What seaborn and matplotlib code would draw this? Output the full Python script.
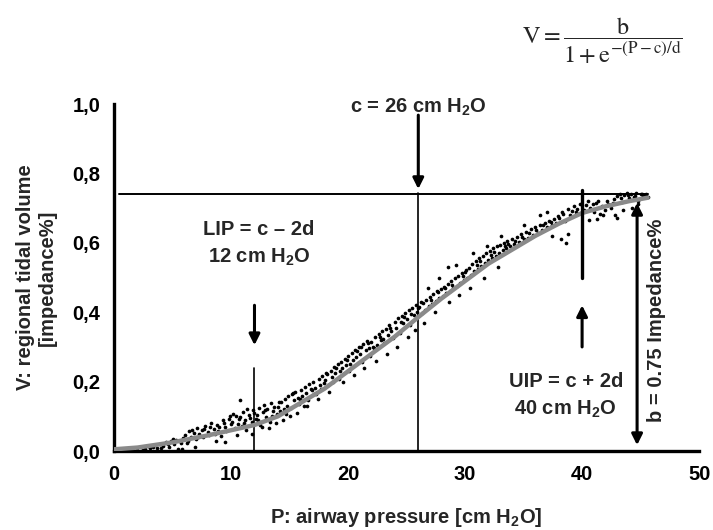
import numpy as np
import pandas as pd
import matplotlib
matplotlib.use("Agg")
import matplotlib.pyplot as plt
import seaborn as sns

# ---------------- data ----------------
scatter_p = [
    2.0, 2.3, 2.6, 2.9, 3.1, 3.4, 3.7, 3.9, 4.2, 4.4, 4.7, 4.9, 5.1, 5.3, 5.5, 5.7, 5.9,
    6.1, 6.3, 6.4, 6.6, 6.8, 7.0, 7.1, 7.3, 7.5, 7.6, 7.8, 8.0, 8.1, 8.3, 8.5, 8.6, 8.8, 9.0, 9.1, 9.3, 9.5, 9.6, 9.8, 10.0,
    5.8, 6.9, 8.7, 9.5,
    10.1, 10.3, 10.4, 10.6, 10.7, 10.9, 11.0, 11.2, 11.3, 11.5, 11.6, 11.8, 11.9, 12.1, 12.2, 12.4, 12.5, 12.7, 12.8, 13.0, 13.1, 13.3, 13.4, 13.6, 13.7, 13.9,
    10.8, 10.5, 11.8, 12.6, 13.2, 13.8,
    14.0, 14.2, 14.3, 14.5, 14.6, 14.8, 14.9, 15.1, 15.2, 15.4, 15.5, 15.7, 15.8, 16.0, 16.1, 16.3, 16.4, 16.6, 16.7, 16.9, 17.0, 17.2, 17.3, 17.5, 17.6, 17.8, 17.9,
    14.4, 15.6, 16.5, 17.4, 15.0,
    18.0, 18.2, 18.3, 18.5, 18.6, 18.8, 18.9, 19.1, 19.2, 19.4, 19.5, 19.7, 19.8, 20.0, 20.1, 20.3, 20.4, 20.6, 20.7, 20.9, 21.0, 21.2, 21.3, 21.5, 21.6, 21.8, 21.9,
    18.4, 19.6, 20.5, 21.4,
    22.0, 22.2, 22.3, 22.5, 22.6, 22.8, 22.9, 23.1, 23.2, 23.4, 23.5, 23.7, 23.8, 24.0, 24.1, 24.3, 24.4, 24.6, 24.7, 24.9, 25.0, 25.2, 25.3, 25.5, 25.6, 25.8, 25.9,
    22.4, 23.3, 24.2, 25.1, 25.7,
    26.1, 26.3, 26.4, 26.6, 26.7, 26.9, 27.0, 27.2, 27.3, 27.5, 27.6, 27.8, 27.9, 28.1, 28.2, 28.4, 28.5, 28.7, 28.8, 29.0, 29.1, 29.3, 29.4, 29.6, 29.7, 29.9,
    26.5, 27.4, 28.6, 29.5, 28.5, 27.8, 29.2, 26.8,
    30.0, 30.2, 30.3, 30.5, 30.6, 30.8, 30.9, 31.1, 31.2, 31.4, 31.5, 31.7, 31.8, 32.0, 32.1, 32.3, 32.4, 32.6, 32.7, 32.9, 33.0, 33.2, 33.3, 33.5, 33.6, 33.8,
    30.4, 31.6, 32.8, 30.7, 31.9, 33.1,
    34.0, 34.2, 34.4, 34.6, 34.8, 35.0, 35.2, 35.4, 35.6, 35.8, 36.0, 36.2, 36.4, 36.6, 36.8, 37.0, 37.2, 37.4, 37.6, 37.8,
    36.4, 37.0, 35.0, 37.4, 38.2, 38.6, 38.8,
    38.0, 38.3, 38.5, 38.8, 39.0, 39.3, 39.5, 39.8, 40.2, 40.5, 40.7, 41.0, 41.2, 41.5, 41.7, 42.0,
    40.6, 41.3, 41.8,
    42.2, 42.5, 42.7, 43.0, 43.2, 43.4, 43.6, 43.8, 44.0, 44.2, 44.4, 44.6, 44.8, 45.0, 45.2, 45.4, 45.6,
    42.8, 43.5, 44.3, 44.8, 43.0,
    2.5, 3.3, 4.0, 4.6, 5.0, 5.6, 6.2, 6.7, 7.2, 7.7, 8.2, 8.9, 9.4, 9.9, 10.2, 10.8, 11.1, 11.4,
    12.0, 12.3, 12.9, 13.5, 14.1, 14.7, 15.3, 15.9, 16.2, 16.8, 17.1, 17.7, 18.1, 18.7, 19.0, 19.3,
    19.9, 20.2, 20.8, 21.1, 21.7, 22.1, 22.7, 23.0, 23.6, 24.5, 24.8, 25.4, 26.0, 26.2, 27.1, 27.7,
    28.3, 28.9, 29.8, 30.1, 31.0, 31.3, 32.2, 32.5, 33.4, 33.7, 34.3, 34.9, 35.5, 36.1, 36.7, 37.3,
    37.9, 38.4, 39.1, 39.6, 40.3, 40.9, 41.4, 42.1, 42.6, 43.3, 43.9, 44.5, 45.1, 45.5,
]
scatter_v = [
    0.008, 0.012, 0.006, 0.015, 0.010, 0.018, 0.009, 0.021, 0.014, 0.025, 0.011, 0.028, 0.019, 0.033, 0.006, 0.024, 0.037,
    0.045, 0.030, 0.058, 0.041, 0.052, 0.036, 0.067, 0.048, 0.060, 0.039, 0.072, 0.055, 0.046, 0.081, 0.063, 0.050, 0.075, 0.068, 0.044, 0.088, 0.070, 0.058, 0.093, 0.077,
    0.005, 0.012, 0.030, 0.025,
    0.085, 0.066, 0.101, 0.079, 0.093, 0.072, 0.112, 0.088, 0.060, 0.104, 0.095, 0.083, 0.118, 0.091, 0.105, 0.125, 0.076, 0.112, 0.132, 0.098, 0.120, 0.085, 0.137, 0.115, 0.127, 0.106,
    0.147, 0.045, 0.050, 0.070, 0.065, 0.080,
    0.128, 0.115, 0.142, 0.120, 0.150, 0.131, 0.158, 0.125, 0.163, 0.146, 0.170, 0.152, 0.136, 0.177, 0.160, 0.185, 0.168, 0.148, 0.192, 0.175, 0.200, 0.182, 0.165, 0.208, 0.190, 0.215, 0.197,
    0.090, 0.110, 0.130, 0.150, 0.100,
    0.205, 0.222, 0.190, 0.230, 0.212, 0.241, 0.225, 0.250, 0.208, 0.258, 0.240, 0.266, 0.248, 0.275, 0.232, 0.283, 0.262, 0.292, 0.271, 0.300, 0.281, 0.258, 0.309, 0.290, 0.318, 0.298, 0.275,
    0.170, 0.200, 0.220, 0.240,
    0.315, 0.298, 0.328, 0.305, 0.338, 0.320, 0.346, 0.312, 0.352, 0.333, 0.362, 0.345, 0.325, 0.372, 0.355, 0.383, 0.340, 0.390, 0.370, 0.398, 0.380, 0.406, 0.362, 0.412, 0.393, 0.420, 0.401,
    0.260, 0.280, 0.300, 0.330, 0.350,
    0.415, 0.398, 0.428, 0.405, 0.436, 0.418, 0.445, 0.425, 0.452, 0.433, 0.460, 0.440, 0.468, 0.448, 0.474, 0.455, 0.482, 0.462, 0.490, 0.470, 0.498, 0.476, 0.505, 0.485, 0.512, 0.493,
    0.370, 0.400, 0.430, 0.450, 0.530, 0.500, 0.535, 0.470,
    0.515, 0.498, 0.528, 0.506, 0.540, 0.518, 0.548, 0.525, 0.556, 0.533, 0.562, 0.542, 0.570, 0.550, 0.576, 0.556, 0.584, 0.562, 0.590, 0.570, 0.595, 0.578, 0.600, 0.584, 0.606, 0.590,
    0.470, 0.500, 0.530, 0.570, 0.590, 0.620,
    0.610, 0.596, 0.618, 0.602, 0.625, 0.610, 0.632, 0.615, 0.640, 0.622, 0.645, 0.628, 0.652, 0.636, 0.658, 0.645, 0.664, 0.650, 0.670, 0.656,
    0.680, 0.690, 0.650, 0.620, 0.610, 0.600, 0.625,
    0.672, 0.690, 0.662, 0.698, 0.680, 0.705, 0.688, 0.712, 0.695, 0.720, 0.700, 0.690, 0.715, 0.682, 0.705, 0.695,
    0.665, 0.670, 0.680,
    0.712, 0.700, 0.725, 0.735, 0.742, 0.718, 0.738, 0.745, 0.728, 0.741, 0.732, 0.744, 0.722, 0.740, 0.736, 0.738, 0.733,
    0.680, 0.695, 0.700, 0.712, 0.672,
    0.004, 0.013, 0.008, 0.020, 0.035, 0.030, 0.022, 0.062, 0.040, 0.064, 0.070, 0.058, 0.080, 0.100, 0.108, 0.098, 0.080, 0.122,
    0.110, 0.090, 0.118, 0.100, 0.140, 0.108, 0.168, 0.150, 0.130, 0.180, 0.165, 0.178, 0.225, 0.198, 0.240, 0.232,
    0.262, 0.250, 0.288, 0.300, 0.312, 0.300, 0.330, 0.322, 0.354, 0.372, 0.385, 0.395, 0.412, 0.430, 0.436, 0.458,
    0.470, 0.478, 0.505, 0.522, 0.536, 0.548, 0.565, 0.574, 0.592, 0.598, 0.606, 0.618, 0.628, 0.636, 0.650, 0.660,
    0.676, 0.682, 0.692, 0.698, 0.708, 0.712, 0.722, 0.720, 0.715, 0.730, 0.738, 0.735, 0.742, 0.740,
]

# fitted sigmoid curve
fit_p = [0, 2, 5, 8, 10, 12, 14, 16, 18, 20, 22, 24, 26, 28, 30, 32, 34, 36, 38, 40, 42, 44, 45.6]
fit_v = [0.005, 0.010, 0.025, 0.045, 0.060, 0.075, 0.100, 0.140, 0.180, 0.230, 0.280, 0.330, 0.386,
         0.440, 0.490, 0.540, 0.580, 0.620, 0.655, 0.686, 0.705, 0.720, 0.730]

x_ticks = [0, 10, 20, 30, 40, 50]
x_ticklabels = ["0", "10", "20", "30", "40", "50"]
y_ticks = [0.0, 0.2, 0.4, 0.6, 0.8, 1.0]
y_ticklabels = ["0,0", "0,2", "0,4", "0,6", "0,8", "1,0"]

c_val = 26      # inflection point
lip_val = 12    # lower inflection point
uip_val = 40    # upper inflection point
b_level = 0.74  # plateau line

# ---------------- style ----------------
sns.set_style("white")
plt.rcParams['font.family'] = ['Liberation Sans', 'DejaVu Sans']
plt.rcParams['mathtext.fontset'] = 'custom'
plt.rcParams['mathtext.rm'] = 'Liberation Sans:bold'
plt.rcParams['mathtext.bf'] = 'Liberation Sans:bold'
plt.rcParams['mathtext.it'] = 'Liberation Sans:bold'

fs = 14.5

fig = plt.figure(figsize=(7.13, 5.30), dpi=100)
ax = fig.add_axes([0.160, 0.149, 0.8205, 0.6547])

df = pd.DataFrame({"P": scatter_p, "V": scatter_v})
sns.scatterplot(data=df, x="P", y="V", ax=ax, color="black", s=7, linewidth=0, zorder=3)
fit = pd.DataFrame({"P": fit_p, "V": fit_v})
sns.lineplot(data=fit, x="P", y="V", ax=ax, color="#8a8a8a", lw=3.2, zorder=4)

# reference lines
ax.plot([0.4, 45.6], [b_level, b_level], color="black", lw=1.4, zorder=2)
ax.plot([c_val, c_val], [0, b_level + 0.005], color="black", lw=1.2, zorder=2)
ax.plot([lip_val, lip_val], [0, 0.24], color="black", lw=1.2, zorder=2)
ax.plot([uip_val, uip_val], [0.50, 0.752], color="black", lw=2.4, zorder=5)

arrow_kw = dict(arrowstyle="-|>", color="black", lw=2.2, mutation_scale=16, shrinkA=0, shrinkB=0)
ax.annotate("", xy=(c_val, 0.755), xytext=(c_val, 0.968), arrowprops=arrow_kw, annotation_clip=False)
ax.annotate("", xy=(lip_val, 0.305), xytext=(lip_val, 0.42), arrowprops=arrow_kw)
ax.annotate("", xy=(uip_val, 0.42), xytext=(uip_val, 0.30), arrowprops=arrow_kw)
ax.annotate("", xy=(44.7, 0.017), xytext=(44.7, 0.715),
            arrowprops=dict(arrowstyle="<|-|>", color="black", lw=2.2, mutation_scale=16, shrinkA=0, shrinkB=0))

# annotation texts
ax.text(c_val, 0.991, r"c = 26 cm H$_\mathbf{2}$O", ha="center", va="center", fontsize=fs, fontweight="bold")
ax.text(12.4, 0.597, "LIP = c \u2013 2d\n12 cm H$_\\mathbf{2}$O", ha="center", va="center",
        fontsize=fs, fontweight="bold", linespacing=1.45, multialignment="center")
ax.text(38.6, 0.158, "UIP = c + 2d\n40 cm H$_\\mathbf{2}$O", ha="center", va="center",
        fontsize=fs, fontweight="bold", linespacing=1.45, multialignment="center")
ax.text(46.4, 0.377, "b = 0.75 Impedance%", rotation=90, ha="center", va="center",
        fontsize=fs, fontweight="bold")

# formula
fig.text(0.845, 0.922, r"$\mathrm{V} = \dfrac{\mathrm{b}}{1+\mathrm{e}^{-(\mathrm{P}-\mathrm{c})/\mathrm{d}}}$",
         ha="center", va="center", fontsize=17.5, math_fontfamily="stix", fontweight="normal")

# axes
ax.set_xlim(0, 50)
ax.set_ylim(0, 1.0)
ax.set_xticks(x_ticks)
ax.set_xticklabels(x_ticklabels)
ax.set_yticks(y_ticks)
ax.set_yticklabels(y_ticklabels)
for s in ["top", "right"]:
    ax.spines[s].set_visible(False)
for s in ["left", "bottom"]:
    ax.spines[s].set_linewidth(2.4)
    ax.spines[s].set_color("black")
ax.tick_params(direction="out", length=5, width=2.4, labelsize=fs, pad=5, colors="black")
for lab in ax.get_xticklabels() + ax.get_yticklabels():
    lab.set_fontweight("bold")

ax.set_xlabel(r"P: airway pressure [cm H$_\mathbf{2}$O]", fontsize=fs, fontweight="bold")
ax.set_ylabel("V: regional tidal volume\n[impedance%]", fontsize=fs, fontweight="bold", linespacing=1.2)
ax.xaxis.label.set_va("center")
ax.yaxis.label.set_va("center")
ax.xaxis.set_label_coords(0.5, -0.193)
ax.yaxis.set_label_coords(-0.132, 0.5)

fig.savefig("out.png", dpi=100)
